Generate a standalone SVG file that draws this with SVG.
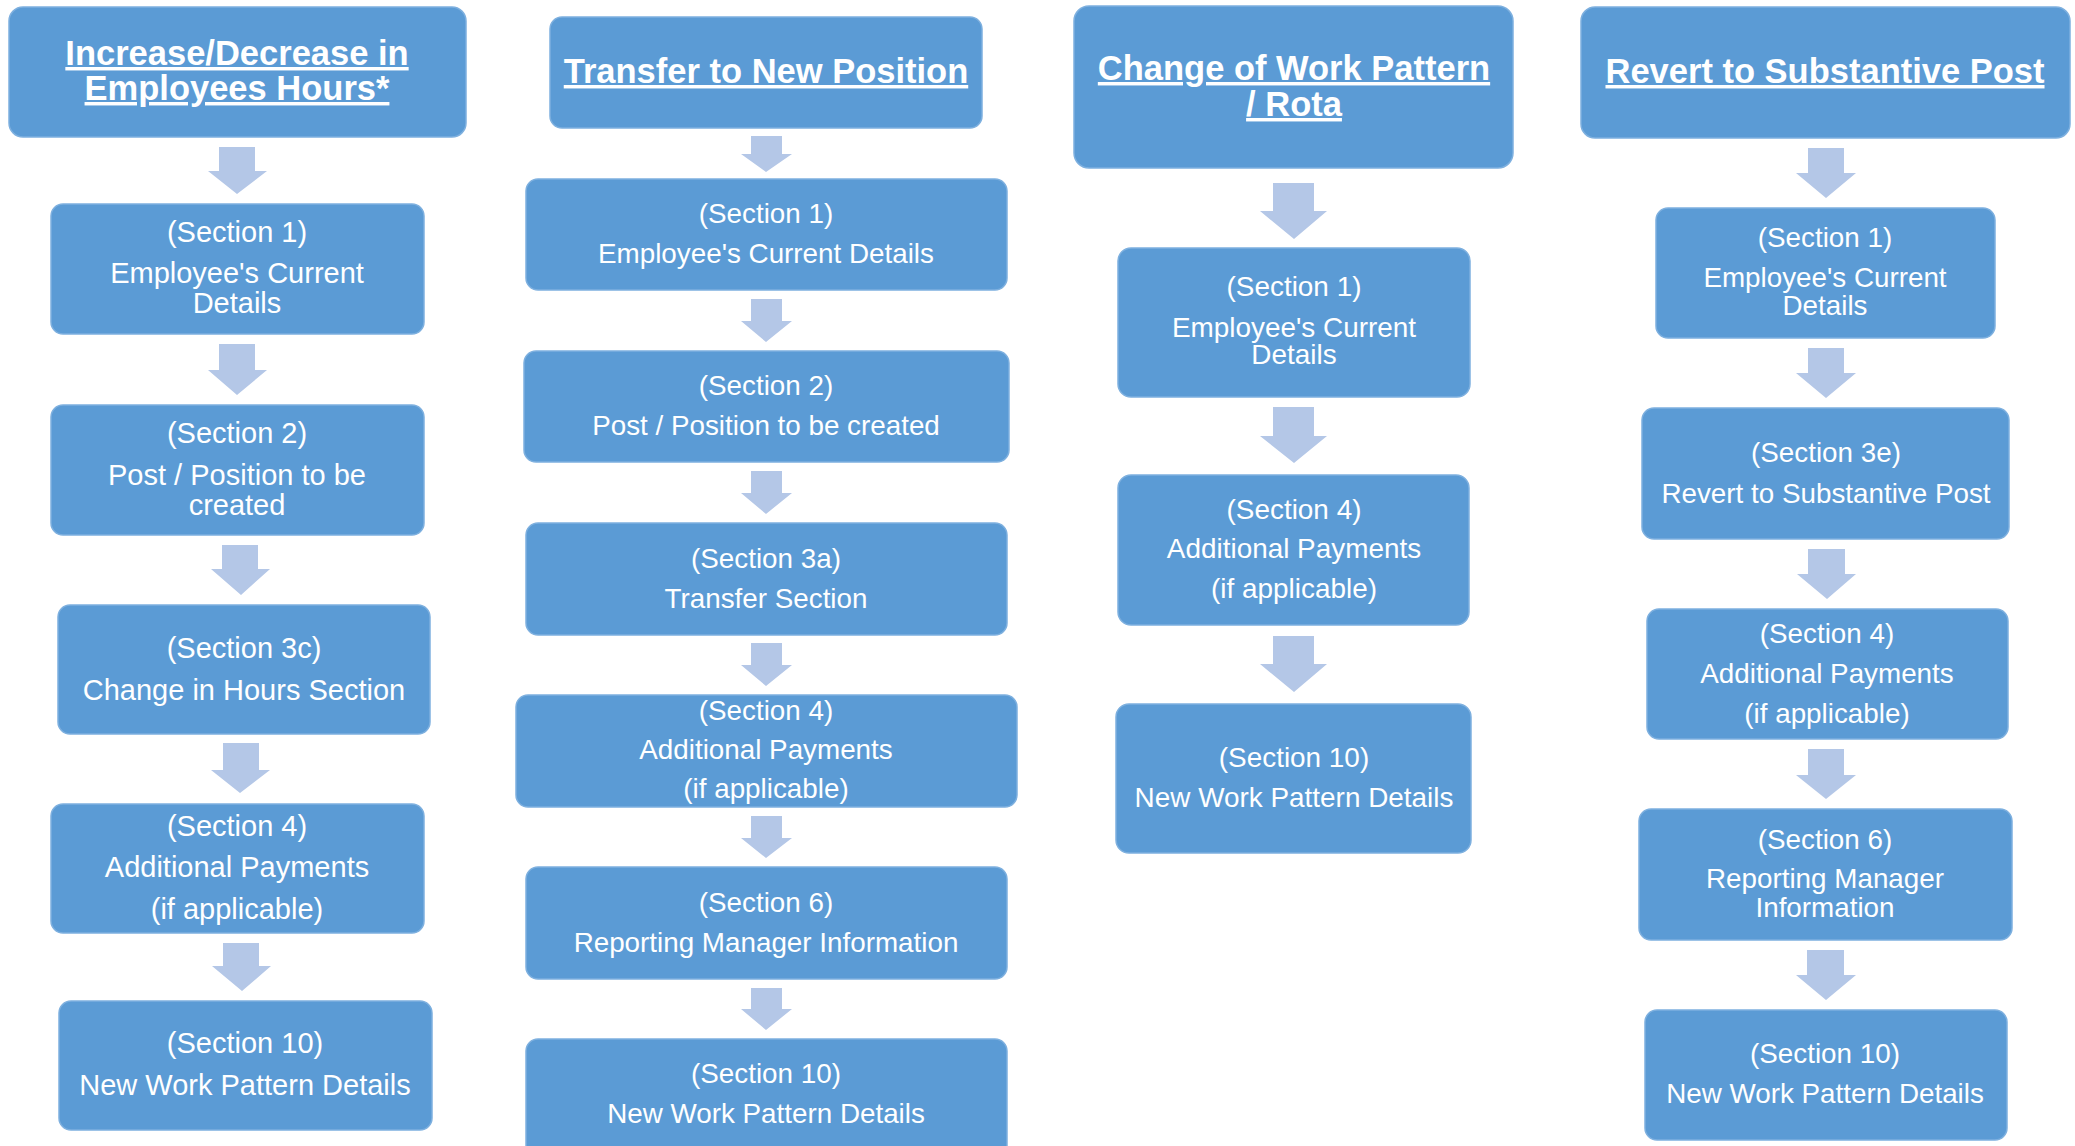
<svg xmlns="http://www.w3.org/2000/svg" width="2075" height="1146" viewBox="0 0 2075 1146">
<style>
.box{fill:#5B9BD5;stroke:#7EB0DF;stroke-width:1.5}
.arr{fill:#B4C7E7}
.t{font-family:"Liberation Sans",Arial,sans-serif;fill:#FFFFFF;text-anchor:middle}
.h{font-weight:bold;font-size:34.5px;text-decoration:underline}
.c1{font-size:29px}.c2{font-size:27.8px}.c3{font-size:27.9px}.c4{font-size:27.8px}
</style>
<rect width="2075" height="1146" fill="#FFFFFF"/>
<g id="connectors">
<polygon class="arr" points="219,147 255,147 255,171 267,171 237,194 208,171 219,171"/>
<polygon class="arr" points="219,344 255,344 255,370 267,370 237,395 208,370 219,370"/>
<polygon class="arr" points="222,545 258,545 258,569 270,569 241,595 211,569 222,569"/>
<polygon class="arr" points="223,743 259,743 259,770 270,770 240,793 211,770 223,770"/>
<polygon class="arr" points="223,943 259,943 259,966 271,966 242,991 212,966 223,966"/>
<polygon class="arr" points="751,136 782,136 782,154 792,154 766,172 741,154 751,154"/>
<polygon class="arr" points="751,299 782,299 782,321 792,321 766,342 741,321 751,321"/>
<polygon class="arr" points="751,471 782,471 782,493 792,493 766,514 741,493 751,493"/>
<polygon class="arr" points="751,643 782,643 782,665 792,665 766,686 741,665 751,665"/>
<polygon class="arr" points="751,816 782,816 782,838 792,838 766,858 741,838 751,838"/>
<polygon class="arr" points="751,988 782,988 782,1009 792,1009 766,1030 741,1009 751,1009"/>
<polygon class="arr" points="1273,183 1314,183 1314,211 1327,211 1294,239 1260,211 1273,211"/>
<polygon class="arr" points="1273,407 1314,407 1314,436 1327,436 1294,463 1260,436 1273,436"/>
<polygon class="arr" points="1273,636 1314,636 1314,664 1327,664 1294,692 1260,664 1273,664"/>
<polygon class="arr" points="1808,148 1844,148 1844,173 1856,173 1826,198 1796,173 1808,173"/>
<polygon class="arr" points="1808,348 1844,348 1844,373 1856,373 1826,398 1796,373 1808,373"/>
<polygon class="arr" points="1808,549 1845,549 1845,574 1856,574 1827,599 1797,574 1808,574"/>
<polygon class="arr" points="1808,749 1844,749 1844,775 1856,775 1826,799 1796,775 1808,775"/>
<polygon class="arr" points="1807,950 1844,950 1844,975 1856,975 1826,1000 1796,975 1807,975"/>
</g>
<g id="h1"><rect class="box" x="9" y="7" width="457" height="130" rx="14"/>
<text class="t h" x="237" y="65">Increase/Decrease in</text>
<text class="t h" x="237" y="100">Employees Hours*</text></g>
<g id="a1"><rect class="box" x="51" y="204" width="373" height="130" rx="12"/>
<text class="t c1" x="237" y="242">(Section 1)</text>
<text class="t c1" x="237" y="283">Employee's Current</text>
<text class="t c1" x="237" y="313">Details</text></g>
<g id="a2"><rect class="box" x="51" y="405" width="373" height="130" rx="12"/>
<text class="t c1" x="237" y="443">(Section 2)</text>
<text class="t c1" x="237" y="485">Post / Position to be</text>
<text class="t c1" x="237" y="515">created</text></g>
<g id="a3"><rect class="box" x="58" y="605" width="372" height="129" rx="12"/>
<text class="t c1" x="244" y="658">(Section 3c)</text>
<text class="t c1" x="244" y="700">Change in Hours Section</text></g>
<g id="a4"><rect class="box" x="51" y="804" width="373" height="129" rx="12"/>
<text class="t c1" x="237" y="836">(Section 4)</text>
<text class="t c1" x="237" y="877">Additional Payments</text>
<text class="t c1" x="237" y="919">(if applicable)</text></g>
<g id="a5"><rect class="box" x="59" y="1001" width="373" height="129" rx="12"/>
<text class="t c1" x="245" y="1053">(Section 10)</text>
<text class="t c1" x="245" y="1095">New Work Pattern Details</text></g>
<g id="h2"><rect class="box" x="550" y="17" width="432" height="111" rx="12"/>
<text class="t h" x="766" y="83">Transfer to New Position</text></g>
<g id="b1"><rect class="box" x="526" y="179" width="481" height="111" rx="12"/>
<text class="t c2" x="766" y="223">(Section 1)</text>
<text class="t c2" x="766" y="263">Employee's Current Details</text></g>
<g id="b2"><rect class="box" x="524" y="351" width="485" height="111" rx="12"/>
<text class="t c2" x="766" y="395">(Section 2)</text>
<text class="t c2" x="766" y="435">Post / Position to be created</text></g>
<g id="b3"><rect class="box" x="526" y="523" width="481" height="112" rx="12"/>
<text class="t c2" x="766" y="568">(Section 3a)</text>
<text class="t c2" x="766" y="608">Transfer Section</text></g>
<g id="b4"><rect class="box" x="516" y="695" width="501" height="112" rx="12"/>
<text class="t c2" x="766" y="720">(Section 4)</text>
<text class="t c2" x="766" y="759">Additional Payments</text>
<text class="t c2" x="766" y="798">(if applicable)</text></g>
<g id="b5"><rect class="box" x="526" y="867" width="481" height="112" rx="12"/>
<text class="t c2" x="766" y="912">(Section 6)</text>
<text class="t c2" x="766" y="952">Reporting Manager Information</text></g>
<g id="b6"><rect class="box" x="526" y="1039" width="481" height="120" rx="12"/>
<text class="t c2" x="766" y="1083">(Section 10)</text>
<text class="t c2" x="766" y="1123">New Work Pattern Details</text></g>
<g id="h3"><rect class="box" x="1074" y="6" width="439" height="162" rx="15"/>
<text class="t h" x="1294" y="80">Change of Work Pattern</text>
<text class="t h" x="1294" y="116">/ Rota</text></g>
<g id="c1"><rect class="box" x="1118" y="248" width="352" height="149" rx="13"/>
<text class="t c3" x="1294" y="296">(Section 1)</text>
<text class="t c3" x="1294" y="337">Employee's Current</text>
<text class="t c3" x="1294" y="364">Details</text></g>
<g id="c2"><rect class="box" x="1118" y="475" width="351" height="150" rx="13"/>
<text class="t c3" x="1294" y="519">(Section 4)</text>
<text class="t c3" x="1294" y="558">Additional Payments</text>
<text class="t c3" x="1294" y="598">(if applicable)</text></g>
<g id="c3"><rect class="box" x="1116" y="704" width="355" height="149" rx="13"/>
<text class="t c3" x="1294" y="767">(Section 10)</text>
<text class="t c3" x="1294" y="807">New Work Pattern Details</text></g>
<g id="h4"><rect class="box" x="1581" y="7" width="489" height="131" rx="14"/>
<text class="t h" x="1825" y="83">Revert to Substantive Post</text></g>
<g id="d1"><rect class="box" x="1656" y="208" width="339" height="130" rx="12"/>
<text class="t c4" x="1825" y="247">(Section 1)</text>
<text class="t c4" x="1825" y="287">Employee's Current</text>
<text class="t c4" x="1825" y="315">Details</text></g>
<g id="d2"><rect class="box" x="1642" y="408" width="367" height="131" rx="12"/>
<text class="t c4" x="1826" y="462">(Section 3e)</text>
<text class="t c4" x="1826" y="503">Revert to Substantive Post</text></g>
<g id="d3"><rect class="box" x="1647" y="609" width="361" height="130" rx="12"/>
<text class="t c4" x="1827" y="643">(Section 4)</text>
<text class="t c4" x="1827" y="683">Additional Payments</text>
<text class="t c4" x="1827" y="723">(if applicable)</text></g>
<g id="d4"><rect class="box" x="1639" y="809" width="373" height="131" rx="12"/>
<text class="t c4" x="1825" y="849">(Section 6)</text>
<text class="t c4" x="1825" y="888">Reporting Manager</text>
<text class="t c4" x="1825" y="917">Information</text></g>
<g id="d5"><rect class="box" x="1645" y="1010" width="362" height="130" rx="12"/>
<text class="t c4" x="1825" y="1063">(Section 10)</text>
<text class="t c4" x="1825" y="1103">New Work Pattern Details</text></g>
</svg>
